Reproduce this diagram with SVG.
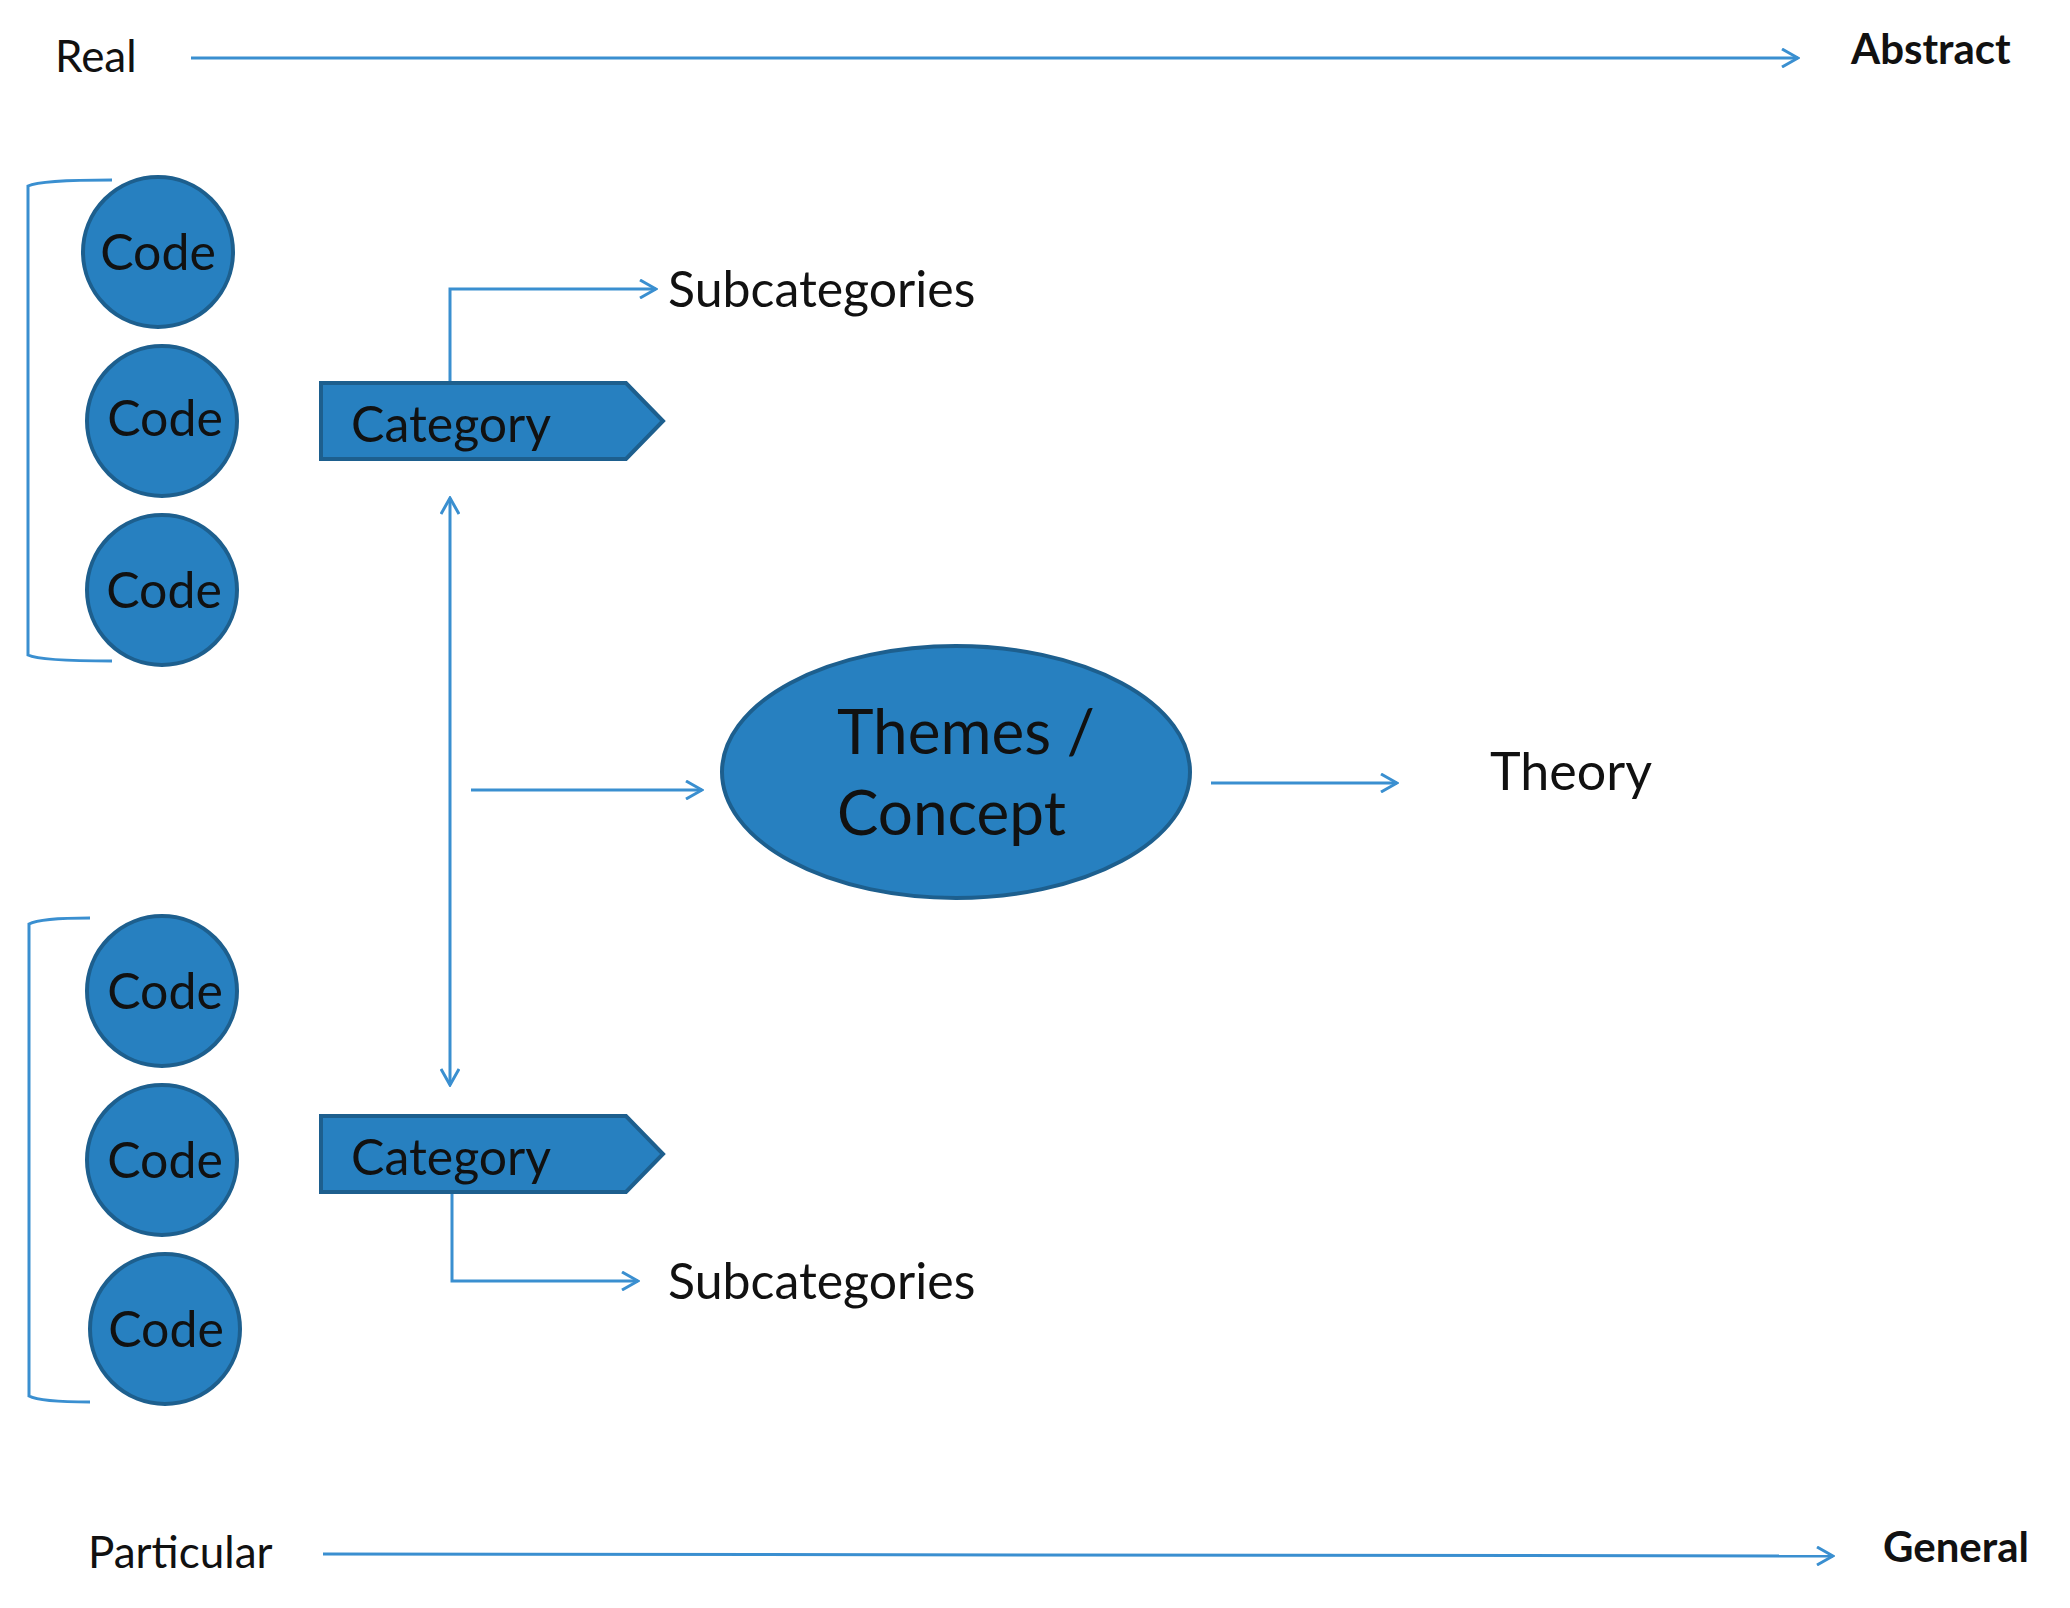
<svg xmlns="http://www.w3.org/2000/svg" width="2070" height="1608" viewBox="0 0 2070 1608">
<style>
text{font-family:Lato,"Open Sans","Liberation Sans",sans-serif;fill:#111}
.ln{stroke:#3A8FD0;stroke-width:3;fill:none}
.nd{fill:#2780C0;stroke:#1D5F8E;stroke-width:4}
.code{font-size:50px}
</style>
<defs>
<marker id="ah" viewBox="0 0 20 20" refX="18" refY="10" markerWidth="20" markerHeight="20" markerUnits="userSpaceOnUse" orient="auto-start-reverse">
<path d="M2 1 L18 10 L2 19" fill="none" stroke="#3A8FD0" stroke-width="3"/>
</marker>
</defs>
<g id="axis-labels">
<text x="55" y="72" font-size="44">Real</text>
<text x="1851" y="64" font-size="42" font-weight="bold">Abstract</text>
<text x="88" y="1568" font-size="44">Particular</text>
<text x="1883" y="1562" font-size="42" font-weight="bold">General</text>
</g>
<g id="connectors">
<line class="ln" x1="191" y1="58" x2="1798" y2="58" marker-end="url(#ah)"/>
<line class="ln" x1="323" y1="1554" x2="1833" y2="1556" marker-end="url(#ah)"/>
<path class="ln" d="M112 180 Q40 180 28 186 L28 655 Q40 661 112 661"/>
<path class="ln" d="M90 918 Q40 918 29 924 L29 1396 Q40 1402 90 1402"/>
<polyline class="ln" points="450,383 450,289 656,289" marker-end="url(#ah)"/>
<polyline class="ln" points="452,1192 452,1281 638,1281" marker-end="url(#ah)"/>
<line class="ln" x1="450" y1="498" x2="450" y2="1085" marker-start="url(#ah)" marker-end="url(#ah)"/>
<line class="ln" x1="471" y1="790" x2="702" y2="790" marker-end="url(#ah)"/>
<line class="ln" x1="1211" y1="783" x2="1397" y2="783" marker-end="url(#ah)"/>
</g>
<g id="codes1">
<circle class="nd" cx="158" cy="252" r="75"/><text class="code" x="158" y="270" text-anchor="middle">Code</text>
<circle class="nd" cx="162" cy="421" r="75"/><text class="code" x="165" y="436" text-anchor="middle">Code</text>
<circle class="nd" cx="162" cy="590" r="75"/><text class="code" x="164" y="608" text-anchor="middle">Code</text>
</g>
<g id="codes2">
<circle class="nd" cx="162" cy="991" r="75"/><text class="code" x="165" y="1009" text-anchor="middle">Code</text>
<circle class="nd" cx="162" cy="1160" r="75"/><text class="code" x="165" y="1178" text-anchor="middle">Code</text>
<circle class="nd" cx="165" cy="1329" r="75"/><text class="code" x="166" y="1347" text-anchor="middle">Code</text>
</g>
<g id="category1">
<path class="nd" d="M321 383 H626 L663 421 L626 459 H321 Z"/>
<text x="351" y="442" font-size="50">Category</text>
</g>
<g id="category2">
<path class="nd" d="M321 1116 H626 L663 1154 L626 1192 H321 Z"/>
<text x="351" y="1175" font-size="50">Category</text>
</g>
<g id="sub1"><text x="668" y="307" font-size="50">Subcategories</text></g>
<g id="sub2"><text x="668" y="1299" font-size="50">Subcategories</text></g>
<g id="themes">
<ellipse class="nd" cx="956" cy="772" rx="234" ry="126"/>
<text x="837" y="754" font-size="62">Themes /</text>
<text x="837" y="835" font-size="62">Concept</text>
</g>
<g id="theory"><text x="1490" y="790" font-size="52">Theory</text></g>
</svg>
